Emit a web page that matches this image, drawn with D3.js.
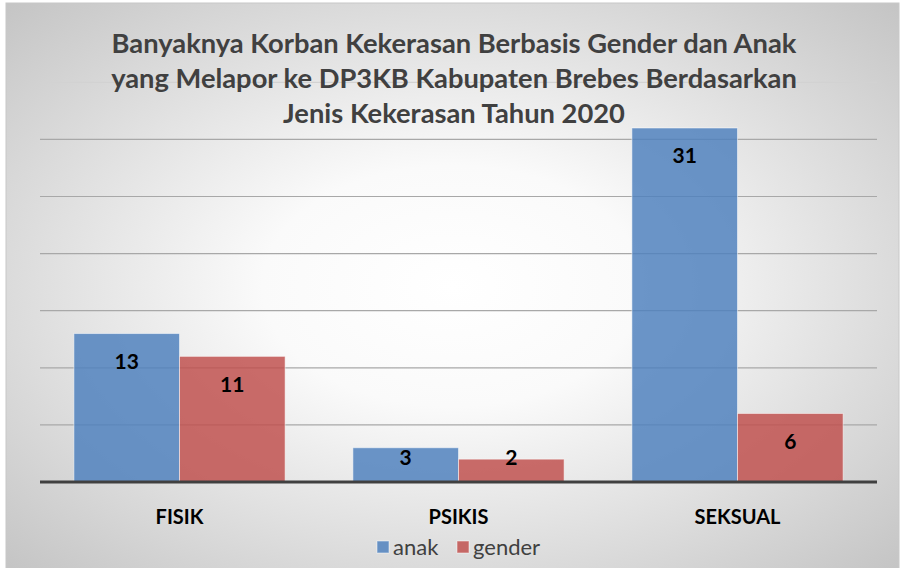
<!DOCTYPE html>
<html><head><meta charset="utf-8">
<script src="https://cdn.jsdelivr.net/npm/d3@7"></script>
<style>html,body{margin:0;padding:0;background:#fff;}</style>
</head><body>
<svg id="c" width="905" height="568"></svg>
<script>
const categories = ["FISIK", "PSIKIS", "SEKSUAL"];
const seriesNames = ["anak", "gender"];
const anakValues = [13, 3, 31];
const genderValues = [11, 2, 6];
const yTicks = [0, 5, 10, 15, 20, 25, 30, 35];
const titleLines = [
  "Banyaknya Korban Kekerasan Berbasis Gender dan Anak",
  "yang Melapor ke DP3KB Kabupaten Brebes Berdasarkan",
  "Jenis Kekerasan Tahun 2020"
];
const colors = ["#4F81BD", "#C0504D"];

const svg = d3.select("#c");
const defs = svg.append("defs");
const rg = defs.append("radialGradient").attr("id", "bg")
  .attr("cx", "50%").attr("cy", "50%").attr("r", "71%");
rg.append("stop").attr("offset", "0%").attr("stop-color", "#ffffff");
rg.append("stop").attr("offset", "30%").attr("stop-color", "#fafafa");
rg.append("stop").attr("offset", "100%").attr("stop-color", "#c4c4c4");

svg.append("rect").attr("x", 6).attr("y", 3).attr("width", 893).attr("height", 566)
  .attr("fill", "url(#bg)").attr("stroke", "#c8c8c8").attr("stroke-width", 1);

const left = 40, right = 877, baseY = 482;
const y = d3.scaleLinear().domain([0, 35]).range([baseY, baseY - 35 * (354 / 31)]);
const x0 = d3.scaleBand().domain(categories).range([left, right]).paddingInner(0.243).paddingOuter(0.1215);
const x1 = d3.scaleBand().domain(seriesNames).range([0, x0.bandwidth()]);

// gridlines
svg.append("g").selectAll("line").data(yTicks.filter(t => t > 0)).join("line")
  .attr("x1", left).attr("x2", right)
  .attr("y1", d => y(d)).attr("y2", d => y(d))
  .attr("stroke", d => d === 35 ? "#d2d2d2" : "#a8a8a8").attr("stroke-width", 1.2);

const data = categories.map((c, i) => ({ cat: c, vals: [anakValues[i], genderValues[i]] }));

const groups = svg.append("g").selectAll("g").data(data).join("g")
  .attr("transform", d => `translate(${x0(d.cat)},0)`);

groups.selectAll("rect").data(d => d.vals.map((v, j) => ({ v, s: seriesNames[j], j }))).join("rect")
  .attr("x", d => x1(d.s)).attr("width", x1.bandwidth())
  .attr("y", d => y(d.v)).attr("height", d => y(0) - y(d.v))
  .attr("fill", d => colors[d.j]).attr("fill-opacity", 0.84)
  .attr("stroke", "#ffffff").attr("stroke-opacity", 0.5).attr("stroke-width", 1);

groups.selectAll("text").data(d => d.vals.map((v, j) => ({ v, s: seriesNames[j], j }))).join("text")
  .attr("x", d => x1(d.s) + x1.bandwidth() / 2)
  .attr("y", d => Math.min(y(d.v) + 28, y(0) - 24))
  .attr("dy", "0.35em")
  .attr("text-anchor", "middle")
  .attr("font-family", "Lato, 'Open Sans', sans-serif").attr("font-weight", "bold")
  .attr("font-size", 21).attr("fill", "#000")
  .text(d => d.v);

// baseline
svg.append("line").attr("x1", left).attr("x2", right).attr("y1", baseY).attr("y2", baseY)
  .attr("stroke", "#404040").attr("stroke-width", 3);

// category axis
const xAxis = d3.axisBottom(x0).tickSize(0).tickPadding(0);
const ax = svg.append("g").attr("transform", `translate(0,${baseY})`).call(xAxis);
ax.select(".domain").remove();
ax.selectAll("text").attr("y", 35).attr("dy", "0.35em")
  .attr("font-family", "Lato, 'Open Sans', sans-serif").attr("font-weight", "bold")
  .attr("font-size", 20).attr("fill", "#000");

// title
const tg = svg.append("g");
const lineYs = [53, 88, 123];
titleLines.forEach((t, i) => {
  tg.append("text").attr("x", 454).attr("y", lineYs[i]).attr("text-anchor", "middle")
    .attr("font-family", "Lato, 'Open Sans', sans-serif").attr("font-weight", "bold")
    .attr("font-size", 23).attr("fill", "#404040").text(t);
});
const w0 = tg.select("text").node().getComputedTextLength();
const fs = 23 * 685 / w0;
tg.selectAll("text").attr("font-size", fs);

// legend
const lg = svg.append("g").attr("transform", "translate(377,547)");
const legItems = [{ name: seriesNames[0], x: 0 }, { name: seriesNames[1], x: 80 }];
legItems.forEach((d, i) => {
  lg.append("rect").attr("x", d.x).attr("y", -6).attr("width", 12).attr("height", 12)
    .attr("fill", colors[i]).attr("fill-opacity", 0.84).attr("stroke", "#fff").attr("stroke-opacity", 0.5);
  lg.append("text").attr("x", d.x + 16).attr("y", 0).attr("dy", "0.35em")
    .attr("font-family", "Lato, 'Open Sans', sans-serif").attr("font-size", 22)
    .attr("fill", "#404040").text(d.name);
});
</script>
</body></html>
